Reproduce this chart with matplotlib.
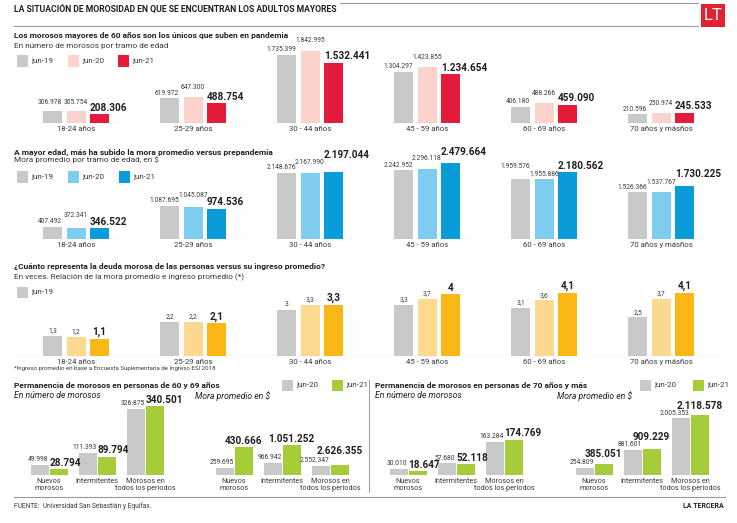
import numpy as np
import matplotlib
matplotlib.use('Agg')
from matplotlib import pyplot as plt
from matplotlib import font_manager
from matplotlib.patches import Rectangle
from matplotlib.lines import Line2D

installed = {f.name for f in font_manager.fontManager.ttflist}
FONT = 'Liberation Sans Narrow' if 'Liberation Sans Narrow' in installed else 'Roboto'
plt.rcParams['font.family'] = [FONT, 'DejaVu Sans']

W, H = 737, 523

# ---------------- data ----------------
tramos = ['18-24 años', '25-29 años', '30 - 44 años', '45 - 59 años',
          '60 - 69 años', '70 años y másños']
periodos = ['jun-19', 'jun-20', 'jun-21']

morosos_19 = [306978, 619972, 1735399, 1304297, 406180, 210596]
morosos_20 = [305754, 647300, 1842995, 1423855, 488266, 250974]
morosos_21 = [208306, 488754, 1532441, 1234654, 459090, 245533]

mora_19 = [407492, 1087695, 2148676, 2242952, 1959576, 1526366]
mora_20 = [372341, 1045087, 2167990, 2296118, 1955886, 1537767]
mora_21 = [346522, 974536, 2197044, 2479664, 2180562, 1730225]

veces_19 = [1.3, 2.2, 3.0, 3.3, 3.1, 2.5]
veces_20 = [1.2, 2.2, 3.3, 3.7, 3.6, 3.7]
veces_21 = [1.1, 2.1, 3.3, 4.0, 4.1, 4.1]

tipos = ['Nuevos\nmorosos', 'Intermitentes', 'Morosos en\ntodos los periodos']
perm60_num_20 = [49998, 111393, 326875]
perm60_num_21 = [28794, 89794, 340501]
perm60_mora_20 = [259695, 966942, 2552347]
perm60_mora_21 = [430666, 1051252, 2626355]
# in the source these bars are not drawn to their labels; heights as drawn
perm60_mora_20_drawn = [259695, 434000, 328000]
perm60_mora_21_drawn = [978000, 1051252, 353000]
perm70_num_20 = [30010, 57680, 163284]
perm70_num_21 = [18647, 52118, 174769]
perm70_mora_20 = [254809, 881601, 2005353]
perm70_mora_21 = [385051, 909229, 2118578]

GRAY = '#c8c9c9'
PINK, RED = '#fbd3cc', '#e61b3c'
LBLUE, BLUE = '#7ecdf0', '#0a9cd8'
LYEL, YEL = '#fdd98f', '#fbb716'
GREEN = '#a6cd39'
DARK = '#231f20'
TXT = '#3a3a3a'

HEAD = 6.0   # bold section headings
SUB = 5.95   # sub headings

fig = plt.figure(figsize=(W / 100, H / 100), dpi=100)


def fx(x):
    return x / W


def fy(y):
    return 1 - y / H


def ftext(x, y, s, **kw):
    kw.setdefault('va', 'center')
    kw.setdefault('color', DARK)
    fig.text(fx(x), fy(y), s, **kw)


def hline(x0, x1, y, color='#9a9a9a', lw=0.8):
    fig.add_artist(Line2D([fx(x0), fx(x1)], [fy(y), fy(y)], color=color, lw=lw))


def swatch(x, y, color, label):
    fig.add_artist(Rectangle((fx(x), fy(y + 5.5)), 11 / W, 11 / H, color=color, lw=0))
    ftext(x + 14, y, label, fontsize=5.8, color=TXT)


def px_axes(x0, y0, x1, y1):
    ax = fig.add_axes([fx(x0), fy(y1), (x1 - x0) / W, (y1 - y0) / H])
    ax.set_axis_off()
    return ax


def miles(v):
    return f'{v:,}'.replace(',', '.')


def veces(v):
    return f'{v:g}'.replace('.', ',')


PT = 0.72  # points per pixel at 100 dpi

# ---------------- header ----------------
ftext(14, 10, 'LA SITUACIÓN DE MOROSIDAD EN QUE SE ENCUENTRAN LOS ADULTOS MAYORES',
      fontsize=6.2, fontweight='bold')
hline(340, 698, 3)
hline(14, 698, 26)
fig.add_artist(Rectangle((fx(701), fy(27)), 24 / W, 23 / H, color='#e2232f', lw=0))
ftext(713, 15.5, 'LT', fontsize=12, color='white', ha='center')


def tramo_chart(y_top, y_base, per_px, series, colors, fmt, centered=False, extra={}):
    ax = px_axes(14, y_top, 720, y_base)
    ax.set_xlim((14 - 76) / 117, (720 - 76) / 117)
    ax.set_ylim(0, (y_base - y_top) * per_px)
    x = np.arange(len(tramos))
    offs = [-0.2, 0.0, 0.2]
    wd = 19 / 117
    for i, (vals, c) in enumerate(zip(series, colors)):
        ax.bar(x + offs[i], vals, wd, color=c, lw=0)
        for g, (xi, v) in enumerate(zip(x + offs[i], vals)):
            if centered:
                ha, xx = 'center', xi
            else:
                ha, xx = [('right', xi + wd / 2), ('center', xi), ('left', xi - wd / 2)][i]
            bold = i == 2
            dy = 1.2 + extra.get((i, g), 0) * PT
            ax.annotate(fmt(v), (xx, v), xytext=(0, dy), textcoords='offset points',
                        ha=ha, va='bottom', fontsize=7.2 if bold else 4.8,
                        fontweight='bold' if bold else 'normal',
                        color=DARK if bold else TXT)
    ax.axhline(0, color='#a8a8a8', lw=0.8)
    for xi, t in zip(x, tramos):
        ax.annotate(t, (xi, 0), xytext=(0, -2.2), textcoords='offset points',
                    ha='center', va='top', fontsize=5.6, color=TXT)
    return ax


# ---------------- section 1 ----------------
ftext(14, 35, 'Los morosos mayores de 60 años son los únicos que suben en pandemia',
      fontsize=HEAD, fontweight='bold')
ftext(14, 46, 'En número de morosos por tramo de edad', fontsize=SUB, color=TXT)
for x0, c, p in zip([17, 68, 118], [GRAY, PINK, RED], periodos):
    swatch(x0, 61, c, p)
tramo_chart(40, 122.5, 25600, [morosos_19, morosos_20, morosos_21],
            [GRAY, PINK, RED], miles,
            extra={(0, 0): 3, (1, 0): 3, (1, 1): 5, (1, 2): 4.5, (1, 3): 4,
                   (1, 4): 4.5, (1, 5): 4})

# ---------------- section 2 ----------------
ftext(14, 152, 'A mayor edad, más ha subido la mora promedio versus prepandemia',
      fontsize=HEAD, fontweight='bold')
ftext(14, 160, 'Mora promedio por tramo de edad, en $', fontsize=SUB, color=TXT)
for x0, c, p in zip([17, 68, 119], [GRAY, LBLUE, BLUE], periodos):
    swatch(x0, 177, c, p)
tramo_chart(155, 239, 32630, [mora_19, mora_20, mora_21],
            [GRAY, LBLUE, BLUE], miles,
            extra={(1, 0): 7, (1, 1): 6, (1, 2): 5, (1, 3): 5, (1, 4): -1, (1, 5): 4,
                   (0, 4): 7, (2, 2): 10, (2, 3): 4, (2, 5): 5})

# ---------------- section 3 ----------------
ftext(14, 266, '¿Cuánto representa la deuda morosa de las personas versus su ingreso promedio?',
      fontsize=HEAD, fontweight='bold')
ftext(14, 277, 'En veces. Relación de la mora promedio e ingreso promedio (*)',
      fontsize=SUB, color=TXT)
swatch(17, 292, GRAY, periodos[0])
tramo_chart(285, 355.7, 0.0652, [veces_19, veces_20, veces_21],
            [GRAY, LYEL, YEL], veces, centered=True)
ftext(14, 368.5, '*Ingreso promedio en base a Encuesta Suplementaria de Ingreso ESI 2018',
      fontsize=4.4, color=TXT)


# ---------------- bottom panels ----------------
def perm_chart(c0, per_px, v20, v21, h20=None, h21=None, bold_center=False, extra={}):
    base, top = 475, 400
    ax = px_axes(c0 - 30, top, c0 + 126, base)
    ax.set_xlim(-30 / 48, 126 / 48)
    ax.set_ylim(0, (base - top) * per_px)
    h20 = v20 if h20 is None else h20
    h21 = v21 if h21 is None else h21
    x = np.arange(3)
    wd, off = 18 / 48, 9.5 / 48
    ax.bar(x - off, h20, wd, color=GRAY, lw=0)
    ax.bar(x + off, h21, wd, color=GREEN, lw=0)
    for xi, v, h in zip(x, v20, h20):
        ax.annotate(miles(v), (xi - off + wd / 2, h), xytext=(0, 1.2),
                    textcoords='offset points', ha='right', va='bottom',
                    fontsize=4.9, color=TXT)
    for g, (xi, v, h) in enumerate(zip(x, v21, h21)):
        xx, ha = ((xi + off, 'center') if bold_center else (xi + off - wd / 2, 'left'))
        ax.annotate(miles(v), (xx, h), xytext=(0, 1.2 + extra.get(g, 0) * PT),
                    textcoords='offset points', ha=ha, va='bottom',
                    fontsize=7.2, fontweight='bold', color=DARK)
    for xi, t in zip(x, tipos):
        ax.annotate(t, (xi, 0), xytext=(0, -2.0), textcoords='offset points',
                    ha='center', va='top', fontsize=5.2, color=TXT, linespacing=0.95)
    return ax


ftext(14, 385, 'Permanencia de morosos en personas de 60 y 69 años',
      fontsize=HEAD, fontweight='bold')
swatch(282, 385, GRAY, 'jun-20')
swatch(332, 385, GREEN, 'jun-21')
ftext(14, 396, 'En número de morosos', fontsize=6.2, style='italic')
ftext(195, 396, 'Mora promedio en $', fontsize=6.2, style='italic')
perm_chart(49, 4960, perm60_num_20, perm60_num_21)
perm_chart(234, 35300, perm60_mora_20, perm60_mora_21,
           perm60_mora_20_drawn, perm60_mora_21_drawn, bold_center=True,
           extra={2: 7})

fig.add_artist(Line2D([fx(369), fx(369)], [fy(380), fy(492)], color='#9a9a9a', lw=0.7))

ftext(375, 385, 'Permanencia de morosos en personas de 70 años y más',
      fontsize=HEAD, fontweight='bold')
swatch(640, 385, GRAY, 'jun-20')
swatch(693, 385, GREEN, 'jun-21')
ftext(375, 396, 'En número de morosos', fontsize=6.2, style='italic')
ftext(557, 396, 'Mora promedio en $', fontsize=6.2, style='italic')
perm_chart(408, 4960, perm70_num_20, perm70_num_21)
perm_chart(594, 35300, perm70_mora_20, perm70_mora_21, bold_center=True,
           extra={0: 3, 1: 5.5, 2: 2.5})

# ---------------- footer ----------------
hline(14, 725, 496.5)
ftext(14, 506, 'FUENTE:  Universidad San Sebastián y Equifax.', fontsize=4.8, color=TXT)
ftext(724, 506, 'LA TERCERA', fontsize=5.0, fontweight='bold', ha='right')

fig.savefig('out.png', dpi=100)
